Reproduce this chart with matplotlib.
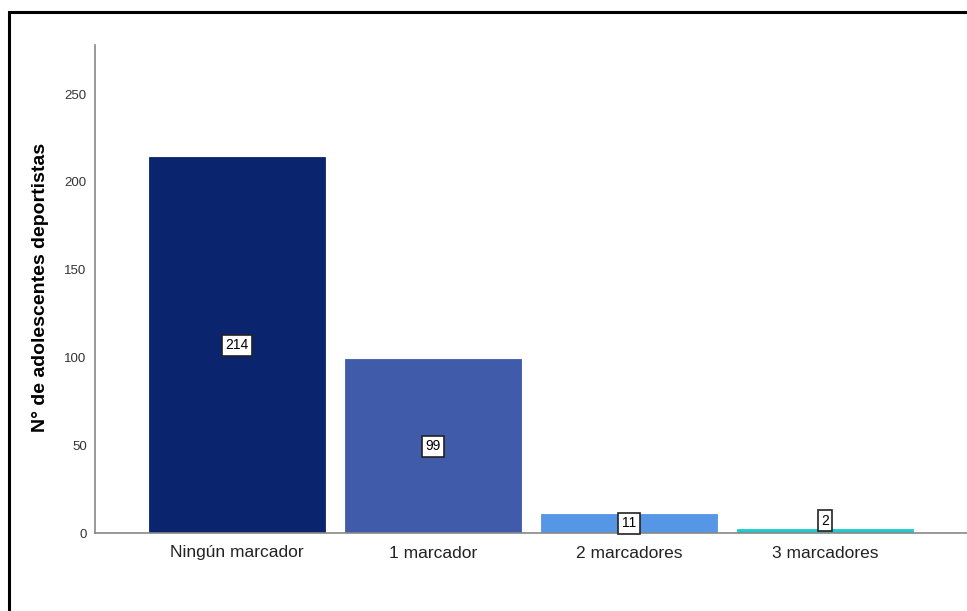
import matplotlib.pyplot as plt
from matplotlib.patches import Rectangle

# Data
categories = ['Ningún marcador', '1 marcador', '2 marcadores', '3 marcadores']
counts = [214, 99, 11, 2]
colors = ['#0b246e', '#3f5ba9', '#5596e5', '#1ecccc']

plt.rcParams['font.family'] = ['Liberation Sans', 'DejaVu Sans']

fig = plt.figure(figsize=(9.67, 6.11), dpi=100)
ax = fig.add_axes([95 / 967, 78 / 611, 872 / 967, 488 / 611])

x = range(len(categories))
ax.bar(x, counts, width=0.9, color=colors, edgecolor=colors, linewidth=0.6)

# value labels in white boxes
for i, v in enumerate(counts):
    y = v / 2 if v / 2 >= 5 else v + 5
    ax.text(i, y, str(v), ha='center', va='center', fontsize=10, color='black',
            bbox=dict(boxstyle='square,pad=0.25', facecolor='white',
                      edgecolor='#222222', linewidth=1.2))

ax.set_xlim(-0.725, 3.725)
ax.set_ylim(0, 278)
ax.set_yticks([0, 50, 100, 150, 200, 250])
ax.set_xticks(list(x))
ax.set_xticklabels(categories, fontsize=12.5, color='#222222')
ax.tick_params(axis='y', length=0, pad=6, labelsize=9.5, labelcolor='#333333')
ax.tick_params(axis='x', length=0, pad=9)

for side in ['top', 'right']:
    ax.spines[side].set_visible(False)
for side in ['left', 'bottom']:
    ax.spines[side].set_color('#888888')
    ax.spines[side].set_linewidth(1.2)

fig.text(41 / 967, 1 - 287 / 611, 'N° de adolescentes deportistas', rotation=90,
         ha='center', va='center', fontsize=14, fontweight='bold')

# outer frame
frame = Rectangle((9 / 967, -0.1), 1.2, 1.1 - 12 / 611, transform=fig.transFigure,
                  fill=False, edgecolor='black', linewidth=2.2, clip_on=False)
fig.patches.append(frame)

fig.savefig('out.png', dpi=100)
